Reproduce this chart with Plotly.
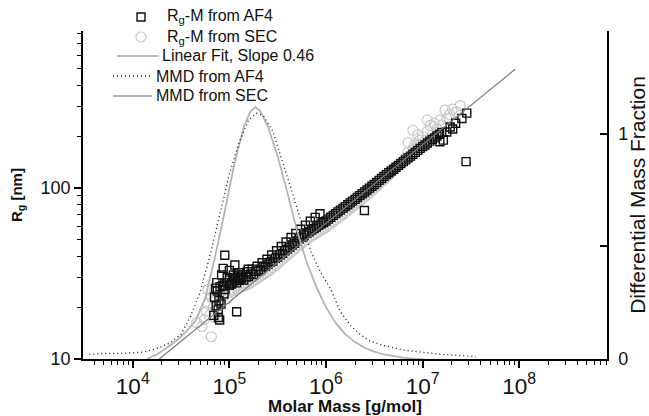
import plotly.graph_objects as go

# ---------------- data ----------------
# Rg-M from AF4 (open black squares)
af4_M = [
    # low-M scatter
    8.97e4, 8.63e4, 1.14e5, 1.57e5, 1.19e5, 7.94e4, 7.66e4, 7.41e4, 8.32e4, 9.33e4,
    7.0e4, 7.5e4, 8.0e4, 8.5e4, 9.0e4, 9.5e4, 1.0e5, 1.05e5, 1.1e5, 1.15e5,
    7.8e4, 8.2e4, 8.8e4, 1.25e5, 1.3e5, 7.2e4, 1.0e5, 6.9e4, 7.3e4, 7.7e4,
    # main band
    1.00e5, 1.06e5, 1.12e5, 1.19e5, 1.26e5, 1.33e5, 1.41e5, 1.50e5, 1.58e5, 1.68e5,
    1.78e5, 1.88e5, 2.00e5, 2.11e5, 2.24e5, 2.37e5, 2.51e5, 2.66e5, 2.82e5, 2.99e5,
    3.16e5, 3.35e5, 3.55e5, 3.76e5, 3.98e5, 4.22e5, 4.47e5, 4.73e5, 5.01e5, 5.31e5,
    5.62e5, 5.96e5, 6.31e5, 6.68e5, 7.08e5, 7.50e5, 7.94e5, 8.41e5, 8.91e5, 9.44e5,
    1.00e6, 1.06e6, 1.12e6, 1.19e6, 1.26e6, 1.33e6, 1.41e6, 1.50e6, 1.58e6, 1.68e6,
    1.78e6, 1.88e6, 2.00e6, 2.11e6, 2.24e6, 2.37e6, 2.51e6, 2.66e6, 2.82e6, 2.99e6,
    3.16e6, 3.35e6, 3.55e6, 3.76e6, 3.98e6, 4.22e6, 4.47e6, 4.73e6, 5.01e6, 5.31e6,
    5.62e6, 5.96e6, 6.31e6, 6.68e6, 7.08e6, 7.50e6, 7.94e6, 8.41e6, 8.91e6, 9.44e6,
    1.00e7, 1.06e7, 1.12e7, 1.19e7, 1.26e7, 1.33e7, 1.41e7, 1.50e7, 1.58e7,
    # band thickness (second row)
    1.09e5, 1.22e5, 1.37e5, 1.54e5, 1.73e5, 1.94e5, 2.18e5, 2.45e5, 2.74e5, 3.08e5,
    3.45e5, 3.87e5, 4.35e5, 4.87e5, 5.47e5, 6.14e5, 6.89e5, 7.73e5, 8.67e5,
    # high-M sparse squares and outliers
    1.51e7, 1.64e7, 1.78e7, 1.93e7, 2.05e7, 2.2e7, 2.55e7, 2.87e7, 2.82e7, 2.5e6,
]
af4_Rg = [
    40.5, 33.9, 35.5, 33.5, 18.9, 16.9, 19.4, 28.0, 31.0, 28.0,
    23.0, 25.0, 26.5, 27.0, 25.5, 30.0, 29.0, 27.5, 31.0, 29.5,
    22.0, 21.0, 24.0, 32.0, 30.0, 26.0, 33.0, 18.0, 20.5, 17.5,
    27.0, 27.8, 28.6, 27.9, 28.9, 29.6, 29.0, 30.2, 30.4, 31.5,
    31.2, 32.6, 32.8, 33.4, 34.6, 34.9, 35.8, 36.9, 37.4, 38.8,
    39.5, 40.8, 41.5, 43.0, 44.0, 45.1, 46.5, 47.6, 49.0, 50.5,
    51.6, 53.2, 54.5, 55.6, 56.8, 58.0, 59.2, 60.6, 61.8, 63.0,
    64.2, 65.9, 67.6, 69.3, 71.0, 72.6, 74.4, 76.2, 78.0, 79.9,
    82.0, 84.0, 86.0, 88.2, 90.4, 92.8, 95.0, 97.6, 100.0, 102.6,
    105.0, 108.0, 111.0, 114.0, 117.0, 120.0, 123.0, 126.0, 129.0, 132.5,
    136.0, 139.5, 143.0, 146.5, 150.5, 154.0, 158.0, 162.0, 166.5, 171.0,
    175.0, 179.0, 184.0, 188.5, 193.0, 197.0, 202.0, 207.0, 212.0,
    29.8, 30.6, 31.2, 32.4, 33.6, 34.9, 36.6, 38.4, 40.6, 43.0,
    45.6, 48.4, 51.4, 54.3, 57.5, 60.8, 64.0, 67.5, 70.8,
    187.0, 191.0, 213.0, 228.0, 222.0, 240.0, 256.0, 275.0, 143.0, 74.0,
]

# Rg-M from SEC (open light-grey circles)
sec_M = [
    # low-M cluster
    4.6e4, 5.2e4, 5.5e4, 5.8e4, 6.0e4, 6.2e4, 6.5e4, 6.8e4, 7.0e4, 7.2e4,
    7.5e4, 7.8e4, 8.0e4, 8.3e4, 8.6e4, 9.0e4, 9.5e4, 6.0e4, 7.0e4, 6.5e4,
    # main band
    1.00e5, 1.06e5, 1.12e5, 1.19e5, 1.26e5, 1.33e5, 1.41e5, 1.50e5, 1.58e5, 1.68e5,
    1.78e5, 1.88e5, 2.00e5, 2.11e5, 2.24e5, 2.37e5, 2.51e5, 2.66e5, 2.82e5, 2.99e5,
    3.16e5, 3.35e5, 3.55e5, 3.76e5, 3.98e5, 4.22e5, 4.47e5, 4.73e5, 5.01e5, 5.31e5,
    5.62e5, 5.96e5, 6.31e5, 6.68e5, 7.08e5, 7.50e5, 7.94e5, 8.41e5, 8.91e5, 9.44e5,
    1.00e6, 1.06e6, 1.12e6, 1.19e6, 1.26e6, 1.33e6, 1.41e6, 1.50e6, 1.58e6, 1.68e6,
    1.78e6, 1.88e6, 2.00e6, 2.11e6, 2.24e6, 2.37e6, 2.51e6, 2.66e6, 2.82e6, 2.99e6,
    3.16e6, 3.35e6, 3.55e6, 3.76e6, 3.98e6, 4.22e6, 4.47e6, 4.73e6, 5.01e6, 5.31e6,
    5.62e6, 5.96e6, 6.31e6,
    # high-M scatter
    6.61e6, 7.08e6, 7.41e6, 7.94e6, 7.94e6, 8.32e6, 8.91e6, 9.33e6, 1.00e7, 1.07e7,
    1.12e7, 1.20e7, 1.26e7, 1.32e7, 1.41e7, 1.51e7, 1.58e7, 1.71e7, 1.78e7, 1.91e7,
    2.04e7, 2.24e7, 2.45e7, 8.91e6, 1.12e7, 7.08e6,
]
sec_Rg = [
    16.3, 15.5, 17.0, 19.0, 21.0, 18.0, 23.0, 20.0, 25.0, 22.0,
    19.5, 24.0, 21.5, 26.0, 23.0, 24.5, 22.5, 25.5, 17.5, 13.5,
    24.5, 24.9, 25.2, 25.6, 26.0, 26.4, 26.8, 27.1, 27.5, 28.1,
    28.7, 29.3, 29.9, 30.5, 31.2, 31.8, 32.5, 33.4, 34.3, 35.3,
    36.2, 37.2, 38.3, 39.4, 40.5, 41.6, 42.8, 44.0, 45.2, 46.4,
    47.6, 48.8, 50.0, 51.1, 52.2, 53.4, 54.5, 55.6, 56.7, 57.9,
    59.0, 60.5, 62.1, 63.6, 65.2, 66.8, 68.5, 70.2, 72.0, 73.9,
    75.9, 77.9, 80.0, 82.1, 84.2, 86.3, 88.5, 91.2, 94.0, 96.8,
    99.7, 102.6, 105.7, 108.8, 112.0, 115.6, 119.3, 123.0, 127.0, 130.9,
    134.8, 138.9, 143.0,
    150.0, 162.0, 152.0, 170.0, 218.0, 180.0, 175.0, 191.0, 200.0, 190.0,
    215.0, 233.0, 205.0, 240.0, 222.0, 250.0, 235.0, 286.0, 255.0, 270.0,
    290.0, 280.0, 305.0, 205.0, 250.0, 185.0,
]

# Linear fit (slope 0.46) end points
fit_M = [1.88e4, 9.1e7]
fit_Rg = [10.0, 497.0]

# Molar mass distributions (right axis)
mmd_af4_M = [3.55e3, 5.0e3, 7.9e3, 1.26e4, 1.58e4, 2.0e4, 2.51e4, 3.16e4, 3.98e4, 5.01e4,
             6.31e4, 7.94e4, 1.0e5, 1.26e5, 1.58e5, 1.91e5, 2.24e5, 2.82e5, 3.55e5, 4.47e5,
             5.62e5, 7.08e5, 8.91e5, 1.12e6, 1.41e6, 1.78e6, 2.24e6, 2.82e6, 3.98e6, 6.31e6,
             1.0e7, 1.58e7, 2.51e7, 3.55e7]
mmd_af4_w = [0.02, 0.025, 0.025, 0.03, 0.04, 0.055, 0.075, 0.11, 0.19, 0.30,
             0.46, 0.64, 0.82, 0.96, 1.06, 1.09, 1.08, 1.01, 0.88, 0.74,
             0.60, 0.47, 0.38, 0.31, 0.21, 0.15, 0.11, 0.08, 0.06, 0.04,
             0.03, 0.02, 0.015, 0.01]

mmd_sec_M = [1.41e4, 1.78e4, 2.24e4, 2.82e4, 3.55e4, 4.47e4, 5.62e4, 7.08e4, 8.91e4, 1.12e5,
             1.41e5, 1.66e5, 1.86e5, 2.09e5, 2.51e5, 3.16e5, 3.98e5, 5.01e5, 6.31e5, 7.94e5,
             1.0e6, 1.26e6, 1.58e6, 2.0e6, 2.51e6, 3.16e6, 3.98e6, 5.01e6, 6.31e6, 7.94e6,
             1.0e7]
mmd_sec_w = [0.0, 0.02, 0.05, 0.08, 0.12, 0.17, 0.27, 0.45, 0.65, 0.86,
             1.03, 1.10, 1.117, 1.10, 1.03, 0.90, 0.74, 0.57, 0.43, 0.32,
             0.23, 0.16, 0.11, 0.075, 0.05, 0.033, 0.02, 0.012, 0.006, 0.002,
             0.0]

legend_labels = ["R<sub>g</sub>-M from AF4", "R<sub>g</sub>-M from SEC",
                 "Linear Fit, Slope 0.46", "MMD from AF4", "MMD from SEC"]

FONT = "Arial, Liberation Sans, Helvetica, sans-serif"
COL_AF4 = "#111111"
COL_SEC = "#c8c8c8"
COL_FIT = "#7a7a7a"
COL_MMD_AF4 = "#222222"
COL_MMD_SEC = "#b4b4b4"

fig = go.Figure()

fig.add_trace(go.Scatter(
    x=mmd_sec_M, y=mmd_sec_w, yaxis="y2", mode="lines", name=legend_labels[4],
    line=dict(color=COL_MMD_SEC, width=1.8), showlegend=False))
fig.add_trace(go.Scatter(
    x=mmd_af4_M, y=mmd_af4_w, yaxis="y2", mode="lines", name=legend_labels[3],
    line=dict(color=COL_MMD_AF4, width=1.4, dash="1px,3px"), showlegend=False))
fig.add_trace(go.Scatter(
    x=sec_M, y=sec_Rg, mode="markers", name=legend_labels[1],
    marker=dict(symbol="circle-open", size=10, color=COL_SEC, line=dict(width=1.2)),
    showlegend=False))
fig.add_trace(go.Scatter(
    x=af4_M, y=af4_Rg, mode="markers", name=legend_labels[0],
    marker=dict(symbol="square-open", size=8, color=COL_AF4, line=dict(width=1.4)),
    showlegend=False))
fig.add_trace(go.Scatter(
    x=fit_M, y=fit_Rg, mode="lines", name=legend_labels[2],
    line=dict(color=COL_FIT, width=1.2), showlegend=False))

# ---- hand-placed legend (pixel layout of the reference) ----
L, T, W, H = 83, 31, 524, 328  # plot area in pixels


def px(xp):
    return (xp - L) / W


def py(yp):
    return (T + H - yp) / H


rows_y = [17, 37, 56, 76, 96]
text_x = [165, 165, 160, 154, 154]
shapes = []
annotations = []
for lab, yy, xx in zip(legend_labels, rows_y, text_x):
    annotations.append(dict(text=lab, x=px(xx), y=py(yy), xref="paper", yref="paper",
                            xanchor="left", yanchor="middle", showarrow=False,
                            font=dict(family=FONT, size=16, color="#111")))
# square key
shapes.append(dict(type="rect", xref="paper", yref="paper", xsizemode="pixel",
                   ysizemode="pixel", xanchor=px(141), yanchor=py(rows_y[0]),
                   x0=-4, x1=4, y0=-4, y1=4, line=dict(color=COL_AF4, width=1.4)))
# circle key
shapes.append(dict(type="circle", xref="paper", yref="paper", xsizemode="pixel",
                   ysizemode="pixel", xanchor=px(141), yanchor=py(rows_y[1]),
                   x0=-5, x1=5, y0=-5, y1=5, line=dict(color=COL_SEC, width=1.2)))
# line keys
shapes.append(dict(type="line", xref="paper", yref="paper", x0=px(117), x1=px(158),
                   y0=py(rows_y[2]), y1=py(rows_y[2]), line=dict(color=COL_FIT, width=1.2)))
shapes.append(dict(type="line", xref="paper", yref="paper", x0=px(113), x1=px(152),
                   y0=py(rows_y[3]), y1=py(rows_y[3]),
                   line=dict(color=COL_MMD_AF4, width=1.4, dash="1px,3px")))
shapes.append(dict(type="line", xref="paper", yref="paper", x0=px(113), x1=px(152),
                   y0=py(rows_y[4]), y1=py(rows_y[4]), line=dict(color=COL_MMD_SEC, width=1.8)))

axis_common = dict(showline=True, linecolor="black", linewidth=1.5, showgrid=False,
                   zeroline=False, tickcolor="black", tickwidth=1.5,
                   tickfont=dict(family=FONT, size=18, color="#111"))

fig.update_layout(
    width=649, height=416,
    margin=dict(l=L, r=649 - L - W, t=T, b=416 - T - H, autoexpand=False),
    paper_bgcolor="white", plot_bgcolor="white",
    font=dict(family=FONT, color="#111"),
    showlegend=False,
    shapes=shapes,
    annotations=annotations,
    xaxis=dict(type="log", range=[3.485, 8.909], dtick=1, ticks="outside", ticklen=7,
               exponentformat="power", showexponent="all",
               minor=dict(ticks="outside", ticklen=4, tickwidth=1.2, tickcolor="black",
                          dtick="D1", showgrid=False),
               title=dict(text="<b>Molar Mass [g/mol]</b>", standoff=5,
                          font=dict(family=FONT, size=17, color="#111")),
               **axis_common),
    yaxis=dict(type="log", range=[1, 2.92], dtick=1, ticks="outside", ticklen=7,
               minor=dict(ticks="outside", ticklen=4, tickwidth=1.2, tickcolor="black",
                          dtick="D1", showgrid=False),
               title=dict(text="<b>R<sub>g</sub> [nm]</b>", standoff=14,
                          font=dict(family=FONT, size=15, color="#111")),
               **axis_common),
    yaxis2=dict(overlaying="y", side="right", range=[0, 1.455],
                tickvals=[0, 0.5, 1], ticktext=["0", "", "1"], ticks="inside", ticklen=7,
                ticklabelstandoff=6,
                title=dict(text="Differential Mass Fraction", standoff=15,
                           font=dict(family=FONT, size=21, color="#111")),
                **axis_common),
)

fig.write_html("out.html", config={"displayModeBar": False},
               post_script="document.body.style.margin='0px';document.body.style.overflow='hidden';")
